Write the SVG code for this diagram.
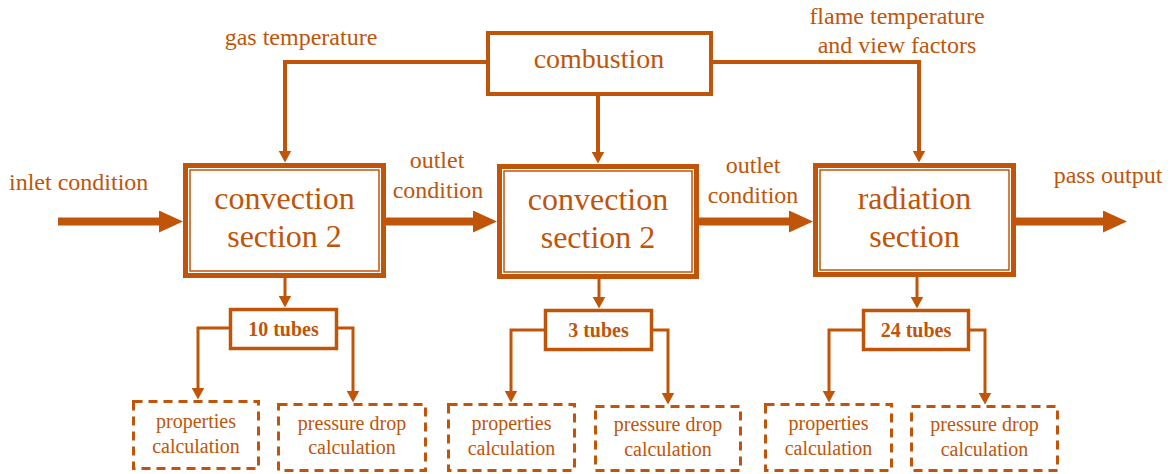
<svg xmlns="http://www.w3.org/2000/svg" width="1172" height="474" viewBox="0 0 1172 474">
<defs>
<style>
text{font-family:'Liberation Serif','Tinos','DejaVu Serif',serif;fill:#C0550A;text-anchor:middle}
.lbl{font-size:24px}
.big{font-size:32px}
.cmb{font-size:28px}
.sm{font-size:20px}
.bold{font-size:20px;font-weight:bold}
.outer{fill:#fff;stroke:#C0550A;stroke-width:5}
.inner{fill:none;stroke:#C0550A;stroke-width:1.5}
.solid{fill:#fff;stroke:#C0550A;stroke-width:3.5}
.dash{fill:#fff;stroke:#C0550A;stroke-width:3;stroke-dasharray:9 6}
.c4{fill:none;stroke:#C0550A;stroke-width:4;marker-end:url(#a)}
.c3{fill:none;stroke:#C0550A;stroke-width:3;marker-end:url(#a)}
.thick{fill:none;stroke:#C0550A;stroke-width:8;marker-end:url(#A)}
</style>
<marker id="a" markerUnits="userSpaceOnUse" markerWidth="13" markerHeight="13" refX="0.5" refY="6.5" orient="auto">
<path d="M0,0 L12,6.5 L0,13 z" fill="#C0550A"/>
</marker>
<marker id="A" markerUnits="userSpaceOnUse" markerWidth="24" markerHeight="22" refX="1" refY="11" orient="auto">
<path d="M0,0 L24,11 L0,22 z" fill="#C0550A"/>
</marker>
</defs>
<rect width="1172" height="474" fill="#fff"/>

<g id="connectors">
<polyline class="c4" points="488,62 285,62 285,151"/>
<polyline class="c4" points="598,96 598,152"/>
<polyline class="c4" points="711,62 919,62 919,151"/>
<line class="thick" x1="58" y1="221.5" x2="160" y2="221.5"/>
<line class="thick" x1="386" y1="221.5" x2="474" y2="221.5"/>
<line class="thick" x1="699" y1="221.5" x2="790" y2="221.5"/>
<line class="thick" x1="1016" y1="221.5" x2="1104" y2="221.5"/>
<polyline class="c3" points="285,278 285,296"/>
<polyline class="c3" points="599,279 599,297"/>
<polyline class="c3" points="917,277 917,297"/>
<polyline class="c3" points="230,328 198,328 198,388"/>
<polyline class="c3" points="337,328 353,328 353,391"/>
<polyline class="c3" points="545,330 511,330 511,391"/>
<polyline class="c3" points="652,330 668,330 668,393"/>
<polyline class="c3" points="863,330 829,330 829,391"/>
<polyline class="c3" points="969,330 985,330 985,393"/>
</g>

<g id="labels">
<text class="lbl" x="301" y="45">gas temperature</text>
<text class="lbl" x="897" y="24">flame temperature</text>
<text class="lbl" x="897" y="53">and view factors</text>
<text class="lbl" x="9" y="190" style="text-anchor:start">inlet condition</text>
<text class="lbl" x="437" y="168">outlet</text>
<text class="lbl" x="438" y="198">condition</text>
<text class="lbl" x="753" y="173">outlet</text>
<text class="lbl" x="753" y="203">condition</text>
<text class="lbl" x="1108" y="183">pass output</text>
</g>

<g id="combustion">
<rect x="488" y="33" width="223" height="61" fill="#fff" stroke="#C0550A" stroke-width="4"/>
<text class="cmb" x="599" y="68">combustion</text>
</g>

<g id="convection1">
<rect class="outer" x="185.5" y="165.5" width="198" height="110"/>
<rect class="inner" x="190" y="170" width="189" height="101"/>
<text class="big" x="284.5" y="209">convection</text>
<text class="big" x="284.5" y="247">section 2</text>
</g>

<g id="convection2">
<rect class="outer" x="499.5" y="166.5" width="197" height="110"/>
<rect class="inner" x="504" y="171" width="188" height="101"/>
<text class="big" x="598" y="210">convection</text>
<text class="big" x="598" y="248">section 2</text>
</g>

<g id="radiation">
<rect class="outer" x="815.5" y="165.5" width="198" height="109"/>
<rect class="inner" x="820" y="170" width="189" height="100"/>
<text class="big" x="914.5" y="209">radiation</text>
<text class="big" x="914.5" y="247">section</text>
</g>

<g id="tubes10">
<rect class="solid" x="230.5" y="309.5" width="106" height="39"/>
<text class="bold" x="283.5" y="336">10 tubes</text>
</g>
<g id="tubes3">
<rect class="solid" x="545.5" y="310.5" width="106" height="39"/>
<text class="bold" x="598.5" y="337">3 tubes</text>
</g>
<g id="tubes24">
<rect class="solid" x="863.5" y="310.5" width="105" height="39"/>
<text class="bold" x="916" y="337">24 tubes</text>
</g>

<g id="props1">
<rect class="dash" x="133.5" y="401.5" width="125" height="67"/>
<text class="sm" x="196" y="428">properties</text>
<text class="sm" x="196" y="453">calculation</text>
</g>
<g id="press1">
<rect class="dash" x="278.5" y="404.5" width="147" height="66"/>
<text class="sm" x="352" y="430">pressure drop</text>
<text class="sm" x="352" y="454">calculation</text>
</g>
<g id="props2">
<rect class="dash" x="448.5" y="404.5" width="126" height="66"/>
<text class="sm" x="511.5" y="430">properties</text>
<text class="sm" x="511.5" y="455">calculation</text>
</g>
<g id="press2">
<rect class="dash" x="595.5" y="406.5" width="145" height="64"/>
<text class="sm" x="668" y="431">pressure drop</text>
<text class="sm" x="668" y="456">calculation</text>
</g>
<g id="props3">
<rect class="dash" x="765.5" y="404.5" width="126" height="66"/>
<text class="sm" x="828.5" y="430">properties</text>
<text class="sm" x="828.5" y="455">calculation</text>
</g>
<g id="press3">
<rect class="dash" x="911.5" y="406.5" width="146" height="64"/>
<text class="sm" x="984.5" y="431">pressure drop</text>
<text class="sm" x="984.5" y="456">calculation</text>
</g>
</svg>
